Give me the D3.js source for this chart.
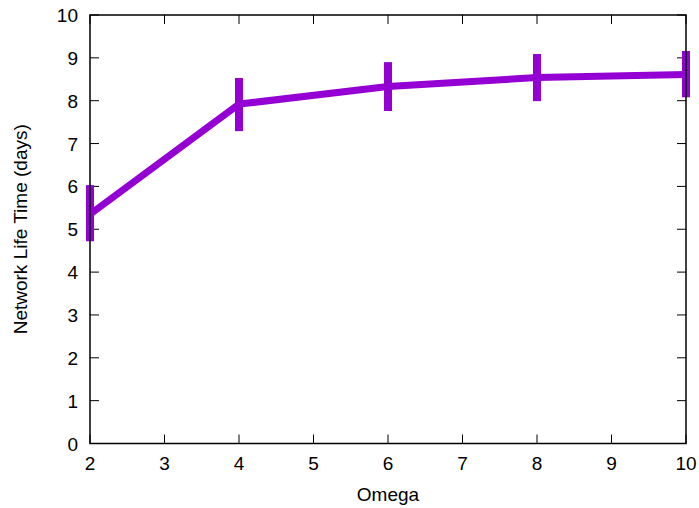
<!DOCTYPE html>
<html>
<head>
<meta charset="utf-8">
<script src="https://cdn.jsdelivr.net/npm/d3@7"></script>
<style>
  html, body { margin: 0; padding: 0; background: #fff; }
  svg text { font-family: "Liberation Sans", Arial, sans-serif; fill: #000; }
</style>
</head>
<body>
<svg id="chart" width="699" height="508"></svg>
<script>
// Network life time vs. omega, with error bars
const omega    = [2, 4, 6, 8, 10];
const lifeMean = [5.35, 7.92, 8.33, 8.54, 8.61];
const lifeLow  = [4.72, 7.29, 7.76, 7.99, 8.08];
const lifeHigh = [6.03, 8.53, 8.90, 9.09, 9.16];
const xTicks = [2, 3, 4, 5, 6, 7, 8, 9, 10];
const yTicks = [0, 1, 2, 3, 4, 5, 6, 7, 8, 9, 10];

const svg = d3.select("#chart");
const plotLeft = 90, plotRight = 686, plotTop = 15, plotBottom = 443.5;
const color = "#9400d3";
const tickLen = 9;
const fontSize = 19;

const x = d3.scaleLinear().domain([2, 10]).range([plotLeft, plotRight]);
const y = d3.scaleLinear().domain([0, 10]).range([plotBottom, plotTop]);

// Inward ticks on all four sides
const ax = svg.append("g").attr("stroke", "#000").attr("stroke-width", 1);
xTicks.forEach(t => {
  ax.append("line").attr("x1", x(t)).attr("x2", x(t)).attr("y1", plotBottom).attr("y2", plotBottom - tickLen);
  ax.append("line").attr("x1", x(t)).attr("x2", x(t)).attr("y1", plotTop).attr("y2", plotTop + tickLen);
});
yTicks.forEach(t => {
  ax.append("line").attr("x1", plotLeft).attr("x2", plotLeft + tickLen).attr("y1", y(t)).attr("y2", y(t));
  ax.append("line").attr("x1", plotRight).attr("x2", plotRight - tickLen).attr("y1", y(t)).attr("y2", y(t));
});

svg.append("g").selectAll("text").data(xTicks).join("text")
  .attr("x", d => x(d)).attr("y", 470)
  .attr("text-anchor", "middle").attr("font-size", fontSize)
  .text(d => d);

svg.append("g").selectAll("text").data(yTicks).join("text")
  .attr("x", 78).attr("y", d => y(d) + 7)
  .attr("text-anchor", "end").attr("font-size", fontSize)
  .text(d => d);

// Data line
const pts = omega.map((o, i) => [o, lifeMean[i]]);
svg.append("path")
  .attr("d", d3.line().x(d => x(d[0])).y(d => y(d[1]))(pts))
  .attr("fill", "none").attr("stroke", color).attr("stroke-width", 7)
  .attr("stroke-linejoin", "miter");

// Error bars
svg.append("g").selectAll("line").data(omega).join("line")
  .attr("x1", d => x(d)).attr("x2", d => x(d))
  .attr("y1", (d, i) => y(lifeLow[i])).attr("y2", (d, i) => y(lifeHigh[i]))
  .attr("stroke", color).attr("stroke-width", 8);

// Border
svg.append("rect")
  .attr("x", plotLeft).attr("y", plotTop).attr("width", plotRight - plotLeft).attr("height", plotBottom - plotTop)
  .attr("fill", "none").attr("stroke", "#000").attr("stroke-width", 1.5);

svg.append("text")
  .attr("x", (plotLeft + plotRight) / 2).attr("y", 501)
  .attr("text-anchor", "middle").attr("font-size", fontSize)
  .text("Omega");

svg.append("text")
  .attr("transform", `translate(27, ${(plotTop + plotBottom) / 2}) rotate(-90)`)
  .attr("text-anchor", "middle").attr("font-size", fontSize)
  .text("Network Life Time (days)");
</script>
</body>
</html>
